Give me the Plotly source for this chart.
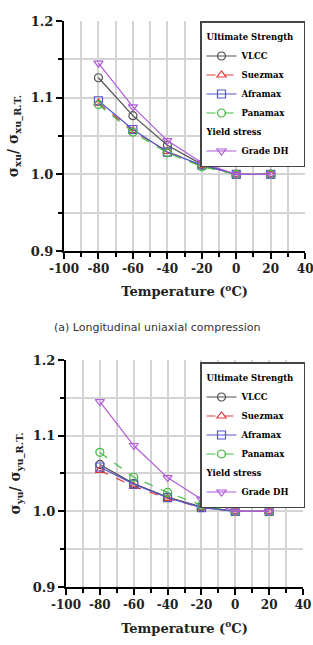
import plotly.graph_objects as go

temps = [-80, -60, -40, -20, 0, 20]

# (a) longitudinal compression
a_vlcc = [1.126, 1.0765, 1.038, 1.013, 1.0, 1.0]
a_suez = [1.093, 1.057, 1.030, 1.011, 1.0, 1.0]
a_afra = [1.096, 1.0585, 1.029, 1.012, 1.0, 1.0]
a_pana = [1.091, 1.055, 1.028, 1.010, 1.0, 1.0]
a_dh = [1.145, 1.088, 1.044, 1.015, 1.0, 1.0]

# (b) transverse compression
b_vlcc = [1.062, 1.0366, 1.019, 1.006, 1.0, 1.0]
b_suez = [1.054, 1.033, 1.017, 1.005, 1.0, 1.0]
b_afra = [1.0586, 1.036, 1.018, 1.005, 1.0, 1.0]
b_pana = [1.078, 1.045, 1.025, 1.008, 1.0, 1.0]
b_dh = [1.145, 1.087, 1.0446, 1.016, 1.0, 1.0]

x_ticks = [-100, -80, -60, -40, -20, 0, 20, 40]
y_ticks = [0.9, 1.0, 1.1, 1.2]

series = [
    ("VLCC", "#505050", "solid", "circle-open", "us"),
    ("Suezmax", "#e03a3a", "dash", "triangle-up-open", "us"),
    ("Aframax", "#5555cc", "solid", "square-open", "us"),
    ("Panamax", "#44bb44", "dash", "circle-open", "us"),
    ("Grade DH", "#b05ad8", "solid", "triangle-down-open", "ys"),
]
group_titles = {"us": "Ultimate Strength", "ys": "Yield stress"}

SERIF = "DejaVu Serif"
fig = go.Figure()

for panel, (data, xa, ya, leg) in enumerate([
    ([a_vlcc, a_suez, a_afra, a_pana, a_dh], "x", "y", "legend"),
    ([b_vlcc, b_suez, b_afra, b_pana, b_dh], "x2", "y2", "legend2"),
]):
    seen = set()
    for vals, (name, col, dash, sym, grp) in zip(data, series):
        kw = {}
        if grp not in seen:
            kw["legendgrouptitle"] = dict(text=group_titles[grp],
                                          font=dict(family=SERIF, size=8.5, color="black", weight="bold"))
            seen.add(grp)
        fig.add_trace(go.Scatter(
            x=temps, y=vals, name=name, mode="lines+markers",
            line=dict(color=col, width=1.2, dash=dash),
            marker=dict(symbol=sym, size=8, color=col, line=dict(width=1.2, color=col)),
            xaxis=xa, yaxis=ya, legend=leg, legendgroup=grp + str(panel), **kw,
        ))

def xax(domain, anchor):
    return dict(
        domain=domain, anchor=anchor, range=[-100, 40], tickvals=x_ticks,
        ticktext=[str(v) for v in x_ticks], automargin=False, ticklabeloverflow="allow",
        showgrid=True, gridcolor="#d4d4d4", gridwidth=1.5,
        minor=dict(dtick=10, tick0=-100, showgrid=True, gridcolor="#d4d4d4", gridwidth=1.5,
                   ticks="outside", ticklen=4, tickcolor="black", tickwidth=1.5),
        ticks="outside", ticklen=6, tickwidth=1.5, tickcolor="black",
        showline=True, linecolor="black", linewidth=2, zeroline=False,
        tickfont=dict(family=SERIF, size=12, color="#222", weight="bold"),
        title=dict(text="Temperature (<sup>o</sup>C)", font=dict(family=SERIF, size=13, color="#222", weight="bold"), standoff=12),
    )

def yax(domain, anchor, label):
    return dict(
        domain=domain, anchor=anchor, range=[0.9, 1.2], tickvals=y_ticks,
        ticktext=["%.1f" % v for v in y_ticks], automargin=False, ticklabeloverflow="allow",
        showgrid=True, gridcolor="#d4d4d4", gridwidth=1.5,
        minor=dict(dtick=0.05, tick0=0.9, showgrid=True, gridcolor="#d4d4d4", gridwidth=1.5,
                   ticks="outside", ticklen=4, tickcolor="black", tickwidth=1.5),
        ticks="outside", ticklen=6, tickwidth=1.5, tickcolor="black",
        showline=True, linecolor="black", linewidth=2, zeroline=False,
        tickfont=dict(family=SERIF, size=13, color="#222", weight="bold"),
        title=dict(text=label, font=dict(family=SERIF, size=14, color="#222", weight="bold"), standoff=9),
    )

legend_common = dict(
    bgcolor="white", bordercolor="#444", borderwidth=1.5,
    font=dict(family=SERIF, size=8.5, color="black", weight="bold"),
    xanchor="right", yanchor="top", tracegroupgap=0, itemwidth=30,
)

fig.update_layout(
    width=313, height=645,
    margin=dict(l=0, r=0, t=0, b=0, autoexpand=False),
    paper_bgcolor="white", plot_bgcolor="white",
    showlegend=True,
    xaxis=xax([0.2045, 0.975], "y"),
    yaxis=yax([0.6109, 0.9674], "x", "σ<sub>xu</sub>/ σ<sub>xu_R.T.</sub>"),
    xaxis2=xax([0.2109, 0.968], "y2"),
    yaxis2=yax([0.0899, 0.4419], "x2", "σ<sub>yu</sub>/ σ<sub>yu_R.T.</sub>"),
    legend=dict(x=305 / 313, y=1 - 21 / 645, **legend_common),
    legend2=dict(x=305 / 313, y=1 - 362 / 645, **legend_common),
    annotations=[dict(
        text="(a) Longitudinal uniaxial compression", x=0.5, y=1 - 327 / 645,
        xref="paper", yref="paper", showarrow=False, xanchor="center", yanchor="middle",
        font=dict(family="DejaVu Sans", size=11, color="#333"),
    )],
)

fig.write_html("out.html")
